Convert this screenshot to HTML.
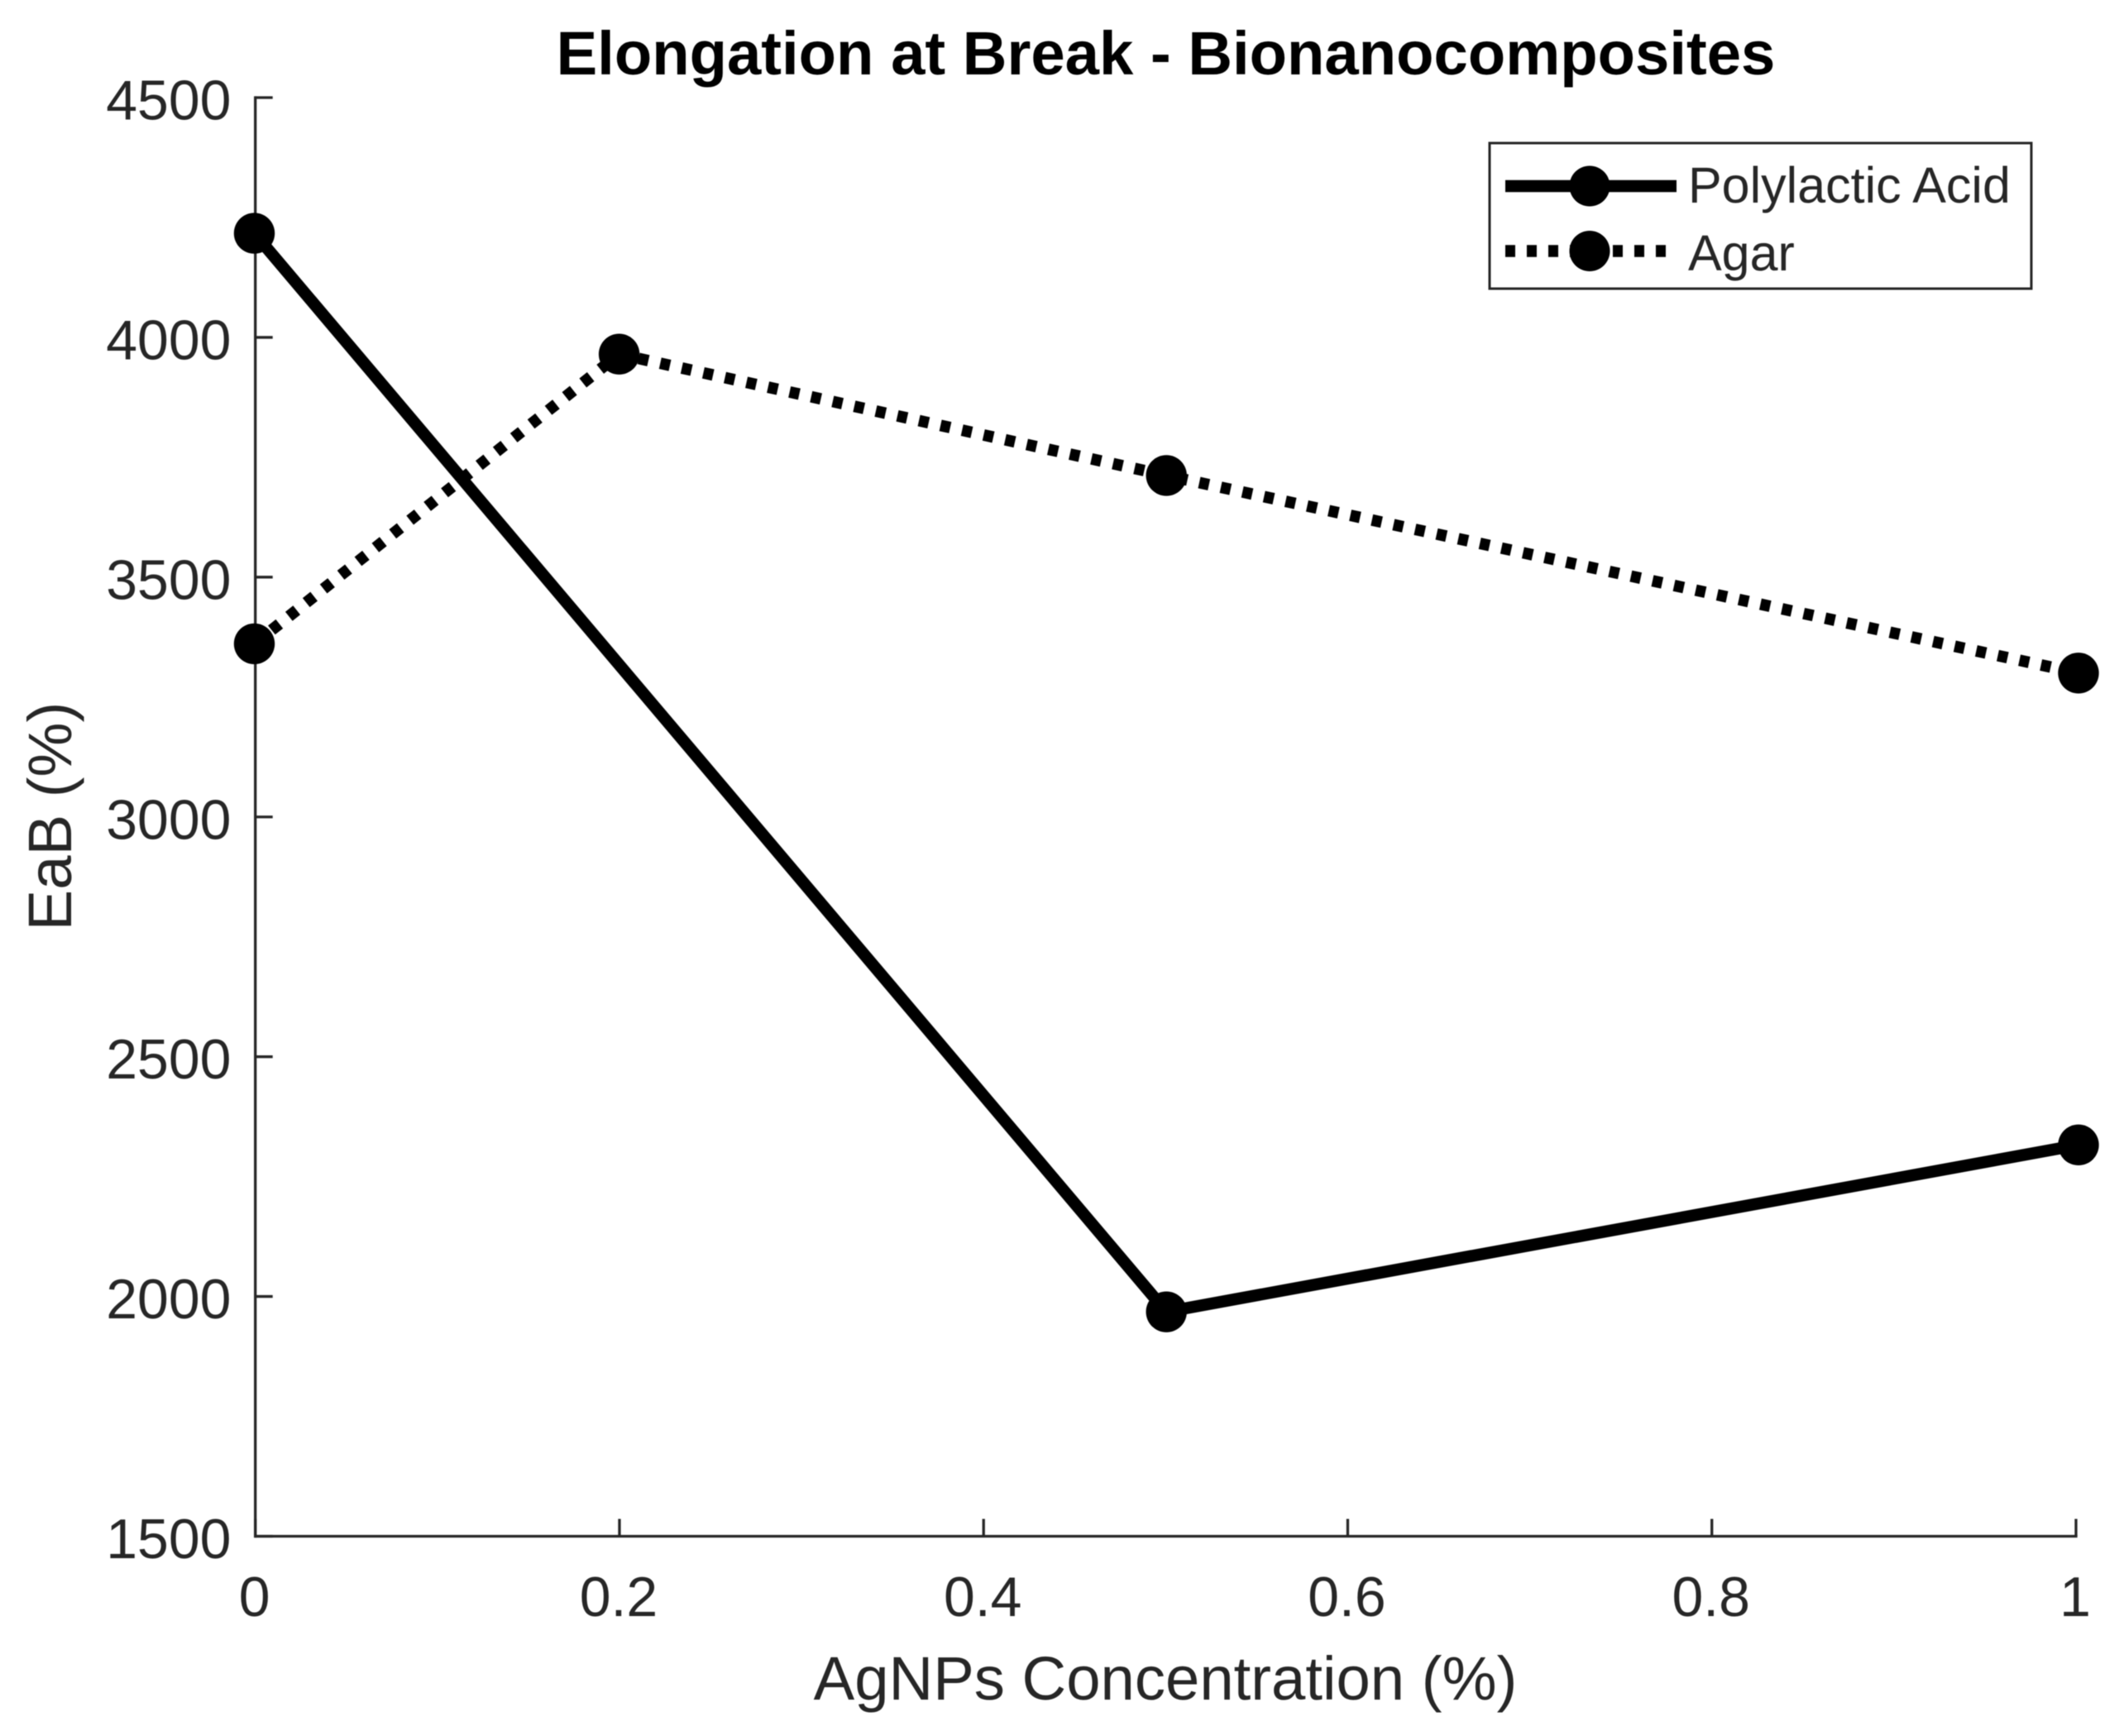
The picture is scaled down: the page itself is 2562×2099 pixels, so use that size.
<!DOCTYPE html>
<html lang="en">
<head>
<meta charset="utf-8">
<title>Elongation at Break - Bionanocomposites</title>
<style>
  html, body { margin: 0; padding: 0; background: #fff; }
  #chart { display: block; width: 2562px; height: 2099px; font-family: "Liberation Sans", Arial, sans-serif; filter: blur(0.6px); }
</style>
</head>
<body>
<svg id="chart" xmlns="http://www.w3.org/2000/svg" width="2562" height="2099" viewBox="0 0 2562 2099">
  <rect x="0" y="0" width="2562" height="2099" fill="#ffffff"/>
  <g id="axes"></g>
  <g id="series"></g>
  <text x="1409.5" y="90" text-anchor="middle" font-size="74.3" font-weight="bold" fill="#000000">Elongation at Break - Bionanocomposites</text>
  <text x="1409" y="2055" text-anchor="middle" font-size="74.3" fill="#262626">AgNPs Concentration (%)</text>
  <text transform="translate(86 987) rotate(-90)" text-anchor="middle" font-size="74.3" fill="#262626">EaB (%)</text>
  <g>
    <rect x="1801" y="173" width="655" height="176" fill="#ffffff" stroke="#262626" stroke-width="3"/>
    <line x1="1820" y1="225" x2="2027" y2="225" stroke="#000000" stroke-width="14.5"/>
    <circle cx="1922" cy="225" r="24.5" fill="#000000"/>
    <text x="2041" y="245" font-size="61" fill="#262626">Polylactic Acid</text>
    <line x1="1820" y1="303.5" x2="2027" y2="303.5" stroke="#000000" stroke-width="14.5" stroke-dasharray="12 14"/>
    <circle cx="1922" cy="303.5" r="24.5" fill="#000000"/>
    <text x="2041" y="327" font-size="61" fill="#262626">Agar</text>
  </g>
</svg>
<script>
var xTickLabels = ['0', '0.2', '0.4', '0.6', '0.8', '1'];
var xTickValues = [0, 0.2, 0.4, 0.6, 0.8, 1];
var yTickValues = [1500, 2000, 2500, 3000, 3500, 4000, 4500];
var polylacticX = [0, 0.5, 1];
var polylacticY = [4217, 1968, 2316];
var agarX = [0, 0.2, 0.5, 1];
var agarY = [3361, 3965, 3712, 3300];

var NS = 'http://www.w3.org/2000/svg';
var plotLeft = 308.7, plotRight = 2510, plotTop = 118, plotBottom = 1857.5;
var markLeft = 307.5, markRight = 2513;
var xMin = 0, xMax = 1, yMin = 1500, yMax = 4500;

function xScale(v) { return plotLeft + (v - xMin) / (xMax - xMin) * (plotRight - plotLeft); }
function xMarkScale(v) { return markLeft + (v - xMin) / (xMax - xMin) * (markRight - markLeft); }
function yScale(v) { return plotBottom - (v - yMin) / (yMax - yMin) * (plotBottom - plotTop); }
function make(tag, attrs) {
  var el = document.createElementNS(NS, tag);
  for (var k in attrs) { el.setAttribute(k, attrs[k]); }
  return el;
}

var axes = document.getElementById('axes');
var seriesGroup = document.getElementById('series');

var yAxisLine = make('line', { x1: plotLeft, y1: plotTop, x2: plotLeft, y2: plotBottom, stroke: '#262626', 'stroke-width': 3.3, 'stroke-linecap': 'square' });


axes.appendChild(yAxisLine);

var xAxisLine = make('line', { x1: plotLeft, y1: plotBottom, x2: plotRight, y2: plotBottom, stroke: '#262626', 'stroke-width': 3.3, 'stroke-linecap': 'square' });


axes.appendChild(xAxisLine);

xTickValues.forEach(function (v, i) {
  var px = xScale(v);
  var tick = make('line', { x1: px, y1: plotBottom, x2: px, y2: plotBottom - 21, stroke: '#262626', 'stroke-width': 3.3 });
  
  
  axes.appendChild(tick);
  var label = make('text', { x: px - 1, y: 1954, 'text-anchor': 'middle', 'font-size': 68, fill: '#262626' });
  
  
  label.textContent = xTickLabels[i];
  axes.appendChild(label);
});

yTickValues.forEach(function (v) {
  var py = yScale(v);
  var tick = make('line', { x1: plotLeft, y1: py, x2: plotLeft + 21, y2: py, stroke: '#262626', 'stroke-width': 3.3 });
  
  
  axes.appendChild(tick);
  var label = make('text', { x: 279.5, y: py + 26.5, 'text-anchor': 'end', 'font-size': 68, fill: '#262626' });
  
  
  label.textContent = String(v);
  axes.appendChild(label);
});

function pointsOf(xs, ys) {
  return xs.map(function (x, i) { return xMarkScale(x) + ',' + yScale(ys[i]); }).join(' ');
}

var agarLine = make('polyline', { points: pointsOf(agarX, agarY), fill: 'none', stroke: '#000000', 'stroke-width': 14, 'stroke-dasharray': '12 14.7' });


seriesGroup.appendChild(agarLine);

var polylacticLine = make('polyline', { points: pointsOf(polylacticX, polylacticY), fill: 'none', stroke: '#000000', 'stroke-width': 14.5, 'stroke-linejoin': 'miter' });


seriesGroup.appendChild(polylacticLine);

agarX.forEach(function (x, i) {
  var dot = make('circle', { cx: xMarkScale(x), cy: yScale(agarY[i]), r: 24.7, fill: '#000000' });
  
  
  seriesGroup.appendChild(dot);
});

polylacticX.forEach(function (x, i) {
  var dot = make('circle', { cx: xMarkScale(x), cy: yScale(polylacticY[i]), r: 24.7, fill: '#000000' });
  
  
  seriesGroup.appendChild(dot);
});
</script>
</body>
</html>
